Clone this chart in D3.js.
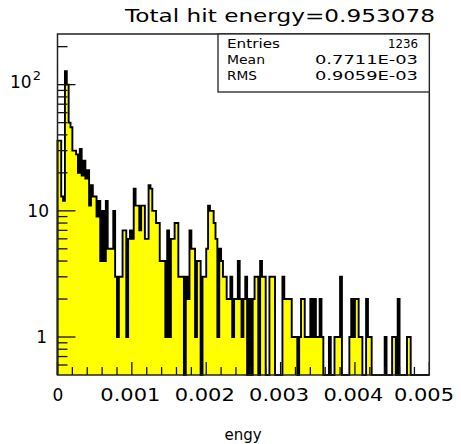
<!DOCTYPE html>
<html><head><meta charset="utf-8">
<script src="https://cdn.jsdelivr.net/npm/d3@7"></script>
<style>html,body{margin:0;padding:0;background:#fff;} svg{display:block}</style>
</head><body>
<svg id="chart" width="461" height="444"></svg>
<script>
// ---- data ----
const title = "Total hit energy=0.953078";
const xTitle = "engy";
const xDomain = [0, 0.005];
const binWidth = 0.000025;
const counts = [
  36,36,13,12,128,100,50,46,30,30, 28,20,31,19,25,18,21,11,16,13,
  13,9,12,4,10,4,12,5,5,5, 10,3,1,3,3,7,7,1,6,7,
  6,15,11,11,7,11,11,6,6,16, 15,10,10,8,8,4,4,4,1,7,
  1,6,6,8,8,3,3,3,0,3, 2,7,5,5,1,4,4,0,3,3,
  5,11,10,10,8,6,1,5,4,3, 3,2,2,3,1,2,2,4,2,1,
  2,3,0,2,0,2,3,3,0,4, 3,3,0,0,3,3,3,0,0,0,
  0,3,2,2,2,2,1,1,1,0, 1,2,2,1,1,1,2,1,2,1,
  1,2,1,0,0,0,1,0,0,1, 1,1,3,0,0,0,0,1,2,1,
  2,2,1,1,0,0,2,1,1,0, 0,0,0,0,0,0,1,0,0,0,
  1,1,0,2,0,0,0,0,1,1, 0,0,0,0,0,0,0,0,0,0
];
const xTickValues = [0, 0.001, 0.002, 0.003, 0.004, 0.005];
const xTickLabels = ["0", "0.001", "0.002", "0.003", "0.004", "0.005"];
const yDomain = [0.5, 252];
const yMajorTicks = [1, 10, 100];
const yMinorTicks = [0.6,0.7,0.8,0.9,2,3,4,5,6,7,8,9,20,30,40,50,60,70,80,90,200];
const statsLabels = ["Entries", "Mean", "RMS"];
const statsValues = ["1236", "0.7711E-03", "0.9059E-03"];

// ---- layout ----
const L = 57.5, R = 429.3, T = 34, B = 375;
const svg = d3.select("#chart");
svg.append("rect").attr("width",461).attr("height",444).attr("fill","#fff");

const x = d3.scaleLinear().domain(xDomain).range([L, R]);
const y = d3.scaleLog().domain(yDomain).range([B, T]).clamp(true);

const pts = counts.map((c,i)=>({x0:i*binWidth, v:c}));
pts.push({x0:counts.length*binWidth, v:0});
const yv = v => v > 0 ? y(v) : B;

// fill
svg.append("path")
  .attr("d", d3.area().x(d=>x(d.x0)).y0(B).y1(d=>yv(d.v)).curve(d3.curveStepAfter)(pts))
  .attr("fill", "#ffff00").attr("stroke","none");
// outline
const nEnd = counts.length*binWidth;
const outlinePts = [{x0:0,v:0}].concat(pts.slice(0,-1))
  .concat([{x0:nEnd, v:counts[counts.length-1]},{x0:nEnd, v:0}]);
svg.append("path")
  .attr("d", d3.line().x(d=>x(d.x0)).y(d=>yv(d.v)).curve(d3.curveStepAfter)(outlinePts))
  .attr("fill","none").attr("stroke","#000").attr("stroke-width",1.9);

// ticks
const g = svg.append("g").attr("stroke","#111").attr("stroke-width",1.3);
yMajorTicks.forEach(t=>g.append("line").attr("x1",L).attr("x2",L+18).attr("y1",y(t)).attr("y2",y(t)));
yMinorTicks.forEach(t=>g.append("line").attr("x1",L).attr("x2",L+10).attr("y1",y(t)).attr("y2",y(t)));
d3.range(0, 26).forEach(k=>{
  const v = k*0.0002; if (v > 0.005 + 1e-9) return;
  const major = k % 5 === 0;
  g.append("line").attr("x1",x(v)).attr("x2",x(v)).attr("y1",B).attr("y2",B-(major?13:8));
});

// frame
svg.append("rect").attr("x",L).attr("y",T).attr("width",R-L).attr("height",B-T)
  .attr("fill","none").attr("stroke","#222").attr("stroke-width",1.5);

const font = "'DejaVu Sans', Verdana, sans-serif";
// x tick labels
const xLabelPos = xTickValues.map((v,i)=> i===0 ? x(v)+0.5 : (i===xTickValues.length-1 ? 424 : x(v)-1.5));
xTickLabels.forEach((t,i)=>{
  const tx = svg.append("text").attr("x",xLabelPos[i]).attr("y",401).attr("text-anchor","middle")
    .attr("font-family",font).attr("font-size",17).attr("fill","#000").text(t);
  if (t.length > 1) tx.attr("textLength",60).attr("lengthAdjust","spacingAndGlyphs");
});
// y labels
svg.append("text").attr("x",47).attr("y",y(1)+6).attr("text-anchor","end")
  .attr("font-family",font).attr("font-size",17).text("1");
svg.append("text").attr("x",49).attr("y",y(10)+6).attr("text-anchor","end")
  .attr("font-family",font).attr("font-size",17).text("10");
const t2 = svg.append("text").attr("x",10).attr("y",y(100)+3)
  .attr("font-family",font).attr("font-size",17);
t2.append("tspan").text("10");
t2.append("tspan").attr("font-size",13).attr("dy",-8).attr("dx",1).text("2");

// title
svg.append("text").attr("x",125).attr("y",22).attr("font-family",font).attr("font-size",18)
  .attr("textLength",310).attr("lengthAdjust","spacingAndGlyphs").text(title);
// x title
svg.append("text").attr("x",243).attr("y",440).attr("text-anchor","middle")
  .attr("font-family",font).attr("font-size",15).text(xTitle);

// stats box
svg.append("rect").attr("x",218).attr("y",T).attr("width",R-218).attr("height",58)
  .attr("fill","#fff").attr("stroke","#222").attr("stroke-width",1.3);
const rowsY = [48, 64, 80];
const labelW = [53, 38, 30];
const valueW = [30, 103, 103];
statsLabels.forEach((s,i)=>{
  svg.append("text").attr("x",227).attr("y",rowsY[i]).attr("font-family",font)
    .attr("font-size",12.5).attr("textLength",labelW[i]).attr("lengthAdjust","spacingAndGlyphs").text(s);
  svg.append("text").attr("x",418).attr("y",rowsY[i]).attr("text-anchor","end")
    .attr("font-family",font).attr("font-size",12.5).attr("textLength",valueW[i])
    .attr("lengthAdjust","spacingAndGlyphs").text(statsValues[i]);
});
</script>
</body></html>
